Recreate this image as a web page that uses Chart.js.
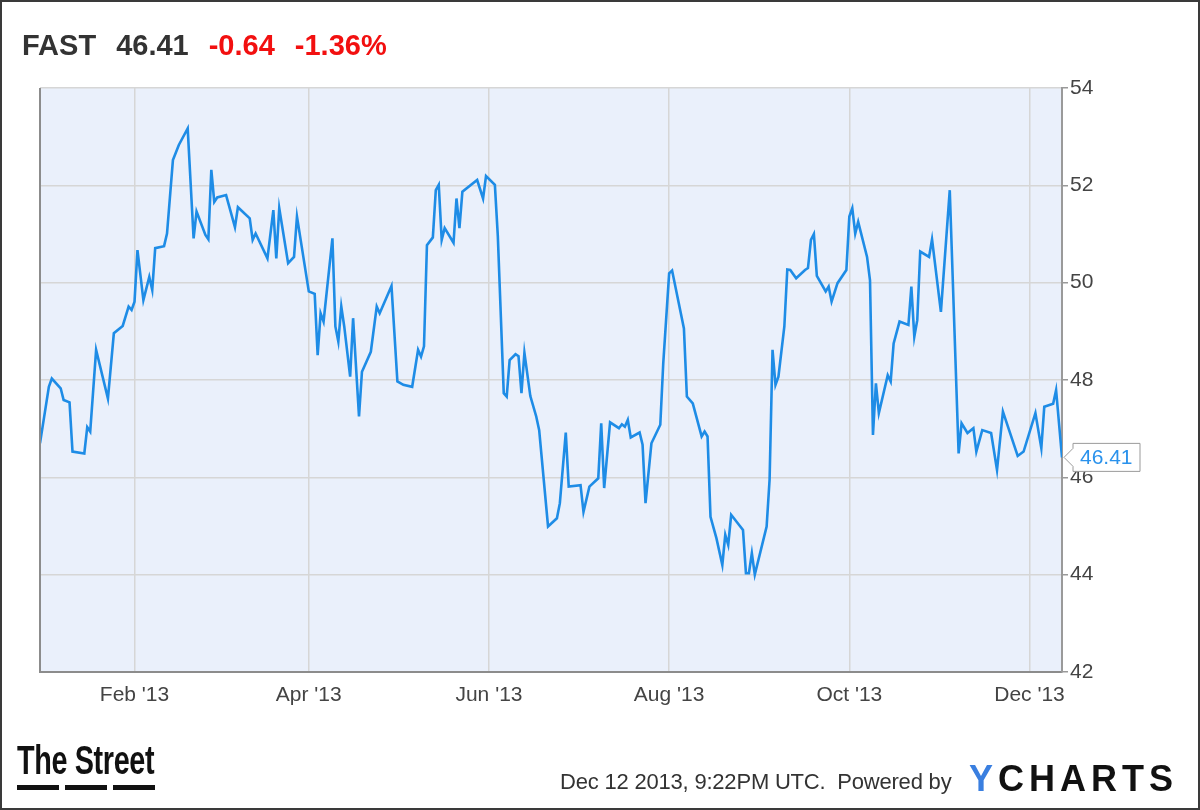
<!DOCTYPE html>
<html>
<head>
<meta charset="utf-8">
<script src="https://cdn.jsdelivr.net/npm/chart.js@4.4.1/dist/chart.umd.min.js"></script>
<style>
  body { margin: 0; background: #fff; }
  #wrap { position: relative; width: 1200px; height: 810px; overflow: hidden; font-family: "Liberation Sans", Arial, sans-serif; }
  #frame { position: absolute; left: 0; top: 0; width: 1200px; height: 810px; box-sizing: border-box; border: 2px solid #3a3a3a; pointer-events: none; }
  #title { position: absolute; left: 22px; top: 31px; font-size: 29px; font-weight: bold; line-height: 29px; color: #333; white-space: nowrap; }
  #title span { display: inline-block; margin-right: 20px; }
  #title .neg { color: #f21010; }
  #stamp { position: absolute; left: 560px; top: 771px; font-size: 22px; line-height: 22px; color: #333; white-space: nowrap; letter-spacing: -0.2px; }
  #ycharts { position: absolute; left: 969px; top: 761px; font-size: 36px; line-height: 36px; font-weight: bold; letter-spacing: 5px; color: #111; white-space: nowrap; }
  #ycharts .y { color: #3a7fe0; }
  #street { position: absolute; left: 17px; top: 740px; font-size: 40px; line-height: 40px; font-weight: bold; color: #111; white-space: nowrap; transform: scaleX(0.72); transform-origin: left top; letter-spacing: -0.5px; }
  .bar { position: absolute; top: 785px; width: 42px; height: 5px; background: #111; }
</style>
</head>
<body>
<div id="wrap">
  <canvas id="chart" width="1200" height="810"></canvas>
  <div id="title"><span>FAST</span><span>46.41</span><span class="neg">-0.64</span><span class="neg">-1.36%</span></div>
  <div id="street">The Street</div>
  <div class="bar" style="left:17px"></div>
  <div class="bar" style="left:65px"></div>
  <div class="bar" style="left:113px"></div>
  <div id="stamp">Dec 12 2013, 9:22PM UTC.&nbsp; Powered by</div>
  <div id="ycharts"><span class="y">Y</span>CHARTS</div>
  <div id="frame"></div>
</div>
<script>
// data ---------------------------------------------------------------
// x = day of 2013 (0 = Jan 1), y = closing price of FAST
const days = [
  -1, 2, 3, 6, 7, 9, 10, 14, 15, 16, 18, 22, 24, 27, 29, 30, 31, 32, 34, 36, 37, 38, 41, 42,
  44, 46, 49, 51, 52, 55, 56, 57, 58, 59, 62, 65, 66, 70, 71, 72, 76, 78, 79, 80, 83, 85, 86,
  90, 92, 93, 94, 95, 98, 99, 100, 101, 102, 104, 105, 107, 108, 111, 113, 114, 118, 120, 122,
  125, 127, 128, 129, 130, 132,
  133, 134, 135, 136, 139, 140, 141, 142, 147, 149, 150, 153, 154, 156, 157, 158, 160, 161, 162,
  163, 165, 167, 168, 171, 174, 175,
  177, 178, 182, 183, 185, 188, 189, 190, 192, 195, 196, 197, 198, 199, 202, 203, 204, 206, 209,
  210, 212, 213, 217, 218,
  220, 223, 224, 225, 226, 228, 230, 231, 232, 233, 237, 238, 239, 240, 241, 245, 246, 247, 248,
  249, 251, 252, 253, 255, 258, 259, 260, 261, 262,
  265, 266, 267, 269, 272, 273, 274, 275, 276, 279, 280, 281, 282, 283, 286, 287, 288, 290, 293,
  294, 295, 296, 297, 300, 301, 304, 307,
  310, 311, 313, 315, 316, 318, 321, 323, 325, 330, 332, 336, 338, 339, 342, 343, 345
];
const prices = [
  46.70, 47.86, 48.03, 47.83, 47.59, 47.54, 46.53, 46.49, 47.03, 46.94, 48.62, 47.62, 48.96, 49.11,
  49.51, 49.44, 49.61, 50.67, 49.64, 50.12, 49.85, 50.71, 50.75, 51.01,
  52.52, 52.83, 53.17, 50.91, 51.46, 50.98, 50.89, 52.32, 51.66, 51.75, 51.80, 51.14, 51.55, 51.32,
  50.88, 51.01, 50.50, 51.49, 50.50, 51.53, 50.40, 50.53, 51.36,
  49.82, 49.77, 48.51, 49.37, 49.20, 50.91, 49.10, 48.79, 49.51, 49.10, 48.07, 49.27, 47.25, 48.17,
  48.58, 49.51, 49.37, 49.93, 47.97, 47.90, 47.86, 48.62, 48.48, 48.69, 50.77, 50.93,
  51.90, 52.01, 50.88, 51.12, 50.82, 51.73, 51.12, 51.87, 52.11, 51.73, 52.19, 52.01, 50.95, 47.73,
  47.66, 48.41, 48.53, 48.49, 47.73, 48.56, 47.67, 47.25, 46.97, 44.99, 45.16, 45.47,
  46.92, 45.81, 45.84, 45.29, 45.81, 45.98, 47.11, 45.78, 47.13, 47.01, 47.09, 47.04, 47.18, 46.82,
  46.92, 46.67, 45.47, 46.70, 47.08, 48.34, 50.19, 50.25, 49.06, 47.66,
  47.52, 46.84, 46.94, 46.84, 45.19, 44.75, 44.20, 44.82, 44.61, 45.23, 44.92, 44.03, 44.03, 44.44,
  44.00, 44.99, 45.95, 48.62, 47.90, 48.07, 49.10, 50.27, 50.26, 50.09, 50.26, 50.30, 50.88, 51.00,
  50.14,
  49.82, 49.92, 49.61, 49.99, 50.26, 51.36, 51.53, 51.01, 51.25, 50.53, 50.05, 46.87, 47.93, 47.32,
  48.10, 47.97, 48.75, 49.20, 49.13, 49.92, 48.89, 49.23, 50.64, 50.53, 50.89, 49.40, 51.90,
  46.49, 47.11, 46.91, 47.01, 46.53, 46.97, 46.91, 46.15, 47.35, 46.44, 46.53, 47.32, 46.60, 47.45,
  47.51, 47.79, 46.41
];

// axis ticks
const tickDays = [31, 90, 151, 212, 273, 334];
const tickLabels = ["Feb '13", "Apr '13", "Jun '13", "Aug '13", "Oct '13", "Dec '13"];
const yTicks = [42, 44, 46, 48, 50, 52, 54];

const points = days.map((d, i) => ({ x: d, y: prices[i] }));
const lastPrice = prices[prices.length - 1];

// plot background, frame and last value marker
const plotDeco = {
  id: 'plotDeco',
  beforeDraw(chart) {
    const a = chart.chartArea, ctx = chart.ctx;
    ctx.save();
    ctx.fillStyle = '#eaf0fb';
    ctx.fillRect(a.left, a.top, a.right - a.left, a.bottom - a.top);
    ctx.restore();
  },
  afterDatasetsDraw(chart) {
    const a = chart.chartArea, ctx = chart.ctx;
    ctx.save();
    ctx.strokeStyle = '#8c8c8c';
    ctx.lineWidth = 2;
    ctx.beginPath();
    ctx.moveTo(a.left, a.top);
    ctx.lineTo(a.left, a.bottom);
    ctx.stroke();
    ctx.restore();
  },
  afterDraw(chart) {
    const a = chart.chartArea, ctx = chart.ctx;
    const y = chart.scales.y.getPixelForValue(lastPrice);
    const x0 = a.right + 2, bx = a.right + 11, bw = 67, bh = 28;
    ctx.save();
    ctx.fillStyle = '#fff';
    ctx.strokeStyle = '#9a9a9a';
    ctx.lineWidth = 1;
    ctx.beginPath();
    ctx.moveTo(x0, y);
    ctx.lineTo(bx, y - 9);
    ctx.lineTo(bx, y - bh / 2);
    ctx.lineTo(bx + bw, y - bh / 2);
    ctx.lineTo(bx + bw, y + bh / 2);
    ctx.lineTo(bx, y + bh / 2);
    ctx.lineTo(bx, y + 9);
    ctx.closePath();
    ctx.fill();
    ctx.stroke();
    ctx.fillStyle = '#2a92ec';
    ctx.font = '21px "Liberation Sans", Arial, sans-serif';
    ctx.textBaseline = 'middle';
    ctx.textAlign = 'left';
    ctx.fillText(lastPrice.toFixed(2), bx + 7, y + 1);
    ctx.restore();
  }
};

const config = {
  type: 'line',
  data: {
    datasets: [{
      data: points,
      borderColor: '#1e8ce6',
      borderWidth: 2.6,
      pointRadius: 0,
      tension: 0,
      fill: false
    }]
  },
  options: {
    responsive: false,
    animation: false,
    events: [],
    layout: { padding: { left: 40, top: 88, right: 0, bottom: 0 } },
    plugins: { legend: { display: false }, tooltip: { enabled: false } },
    scales: {
      x: {
        type: 'linear',
        min: -1,
        max: 345,
        afterFit: (s) => { s.height = 138; },
        afterBuildTicks: (s) => { s.ticks = tickDays.map(v => ({ value: v })); },
        grid: { color: '#d6d6d6', lineWidth: 1.5, drawTicks: false },
        border: { color: '#8c8c8c', width: 2 },
        ticks: {
          autoSkip: false,
          maxRotation: 0,
          padding: 11,
          color: '#444',
          font: { family: '"Liberation Sans", Arial, sans-serif', size: 21 },
          callback: (v) => tickLabels[tickDays.indexOf(v)]
        }
      },
      y: {
        position: 'right',
        min: 42,
        max: 54,
        afterFit: (s) => { s.width = 138; },
        afterBuildTicks: (s) => { s.ticks = yTicks.map(v => ({ value: v })); },
        grid: { color: '#d6d6d6', lineWidth: 1.5, tickLength: 6, tickColor: '#999' },
        border: { color: '#9a9a9a', width: 2 },
        ticks: {
          padding: 2,
          color: '#444',
          font: { family: '"Liberation Sans", Arial, sans-serif', size: 21 }
        }
      }
    }
  },
  plugins: [plotDeco]
};

const priceChart = new Chart(document.getElementById('chart'), config);
</script>
</body>
</html>
